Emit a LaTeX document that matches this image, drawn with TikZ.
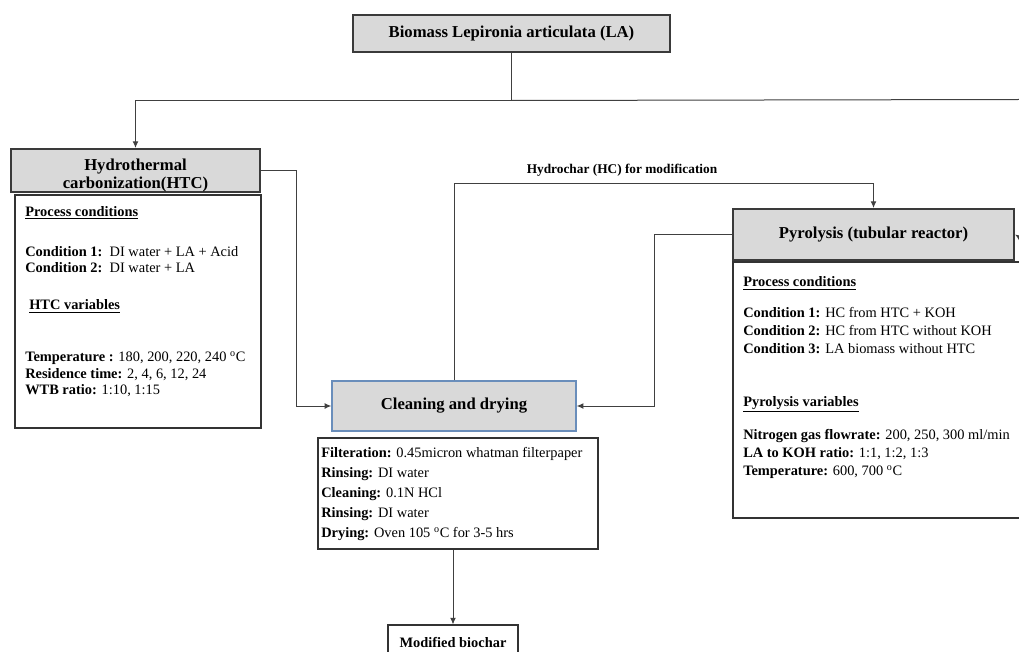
\documentclass[tikz,border=0pt]{standalone}
\usepackage{fontspec}
\setmainfont{Liberation Serif}
\usetikzlibrary{arrows.meta}
\definecolor{boxgray}{HTML}{D9D9D9}
\definecolor{edgegray}{HTML}{3A3A3A}
\definecolor{linegray}{HTML}{404040}
\definecolor{cleanblue}{HTML}{6A8EBB}

\begin{document}
\begin{tikzpicture}[x=0.75pt,y=-0.75pt,>={Latex[length=5pt,width=4.4pt]},
  boxsize/.style 2 args={minimum width=#1*0.75pt,minimum height=#2*0.75pt},
  headfont/.style={font=\fontsize{12.5}{13.5}\selectfont\bfseries},
  head/.style={draw=edgegray,line width=1.5pt,fill=boxgray,align=center,inner sep=0pt,headfont},
  infobox/.style={draw=black!80,line width=0.8pt,inner sep=0pt},
  info/.style={anchor=north west,align=left,inner sep=0pt,font=\fontsize{10.8}{#1}\selectfont},
  info/.default=13pt,
  conn/.style={draw=linegray,line width=0.75pt}]
  \useasboundingbox (0,0) rectangle (1019,652);
  \coordinate (rimtop) at (1019,99.5);
  \coordinate (rimpyro) at (1019,237);

  \node[head,boxsize={317}{37}] (bio) at (511.5,33.5) {Biomass Lepironia articulata (LA)};
  \node[head,boxsize={249}{43}] (htc) at (135.5,170.5) {};
  \node[headfont,align=center,inner sep=0pt] (htctitle) at ([yshift=-4pt]htc.center) {Hydrothermal\\carbonization(HTC)};
  \node[head,boxsize={281}{51}] (pyro) at (873.5,234.5) {Pyrolysis (tubular reactor)};
  \node[head,draw=cleanblue,line width=1pt,boxsize={244}{50}] (clean) at (454,406) {Cleaning and drying};
  \node[font=\fontsize{10}{12}\selectfont\bfseries] (hclabel) at (622,170) {Hydrochar (HC) for modification};

  \node[infobox,boxsize={246}{233}] (htcbox) at (138,311.5) {};
  \node[info=12.4pt] (htctext) at (25,206) {%
    \underline{\textbf{Process conditions}}\\[17.6pt]
    \textbf{Condition 1:}\ \ DI water + LA + Acid\\
    \textbf{Condition 2:}\ \ DI water + LA\\[15.4pt]
    \hspace{3pt}\underline{\textbf{HTC variables}}\\[26.6pt]
    \textbf{Temperature :} 180, 200, 220, 240 \textsuperscript{o}C\\
    \textbf{Residence time:} 2, 4, 6, 12, 24\\
    \textbf{WTB ratio:} 1:10, 1:15};

  \node[infobox,boxsize={300}{256}] (pyrobox) at (883,390) {};
  \node[info=13.5pt] (pyrotext) at (743,276.5) {%
    \underline{\textbf{Process conditions}}\\[9.75pt]
    \textbf{Condition 1:} HC from HTC + KOH\\
    \textbf{Condition 2:} HC from HTC without KOH\\
    \textbf{Condition 3:} LA biomass without HTC\\[26.25pt]
    \underline{\textbf{Pyrolysis variables}}\\[11.25pt]
    \textbf{Nitrogen gas flowrate:} 200, 250, 300 ml/min\\
    \textbf{LA to KOH ratio:} 1:1, 1:2, 1:3\\
    \textbf{Temperature:} 600, 700 \textsuperscript{o}C};

  \node[infobox,boxsize={280}{111}] (cleanbox) at (458,493.5) {};
  \node[info=15pt] (cleantext) at (321,447.5) {%
    \textbf{Filteration:} 0.45micron whatman filterpaper\\
    \textbf{Rinsing:} DI water\\
    \textbf{Cleaning:} 0.1N HCl\\
    \textbf{Rinsing:} DI water\\
    \textbf{Drying:} Oven 105 \textsuperscript{o}C for 3-5 hrs};

  \node[infobox,font=\fontsize{10.8}{13}\selectfont\bfseries,boxsize={130}{34}] (biochar) at (453,642) {Modified biochar};

  \draw[conn,->] (bio.south) -- ++(0,47.5) coordinate (split) -| (htc.north);
  \draw[conn] (split) -- (rimtop);
  \draw[conn,->] (rimpyro) -- (pyro.east);
  \draw[conn,->] (htc.east) -- ++(35,0) |- (clean.west);
  \draw[conn,->] (clean.north) -- ++(0,-197) -| (pyro.north);
  \draw[conn,->] (pyro.west) -- ++(-78,0) |- (clean.east);
  \draw[conn,->] (biochar.north |- cleanbox.south) -- (biochar.north);
\end{tikzpicture}
\end{document}
